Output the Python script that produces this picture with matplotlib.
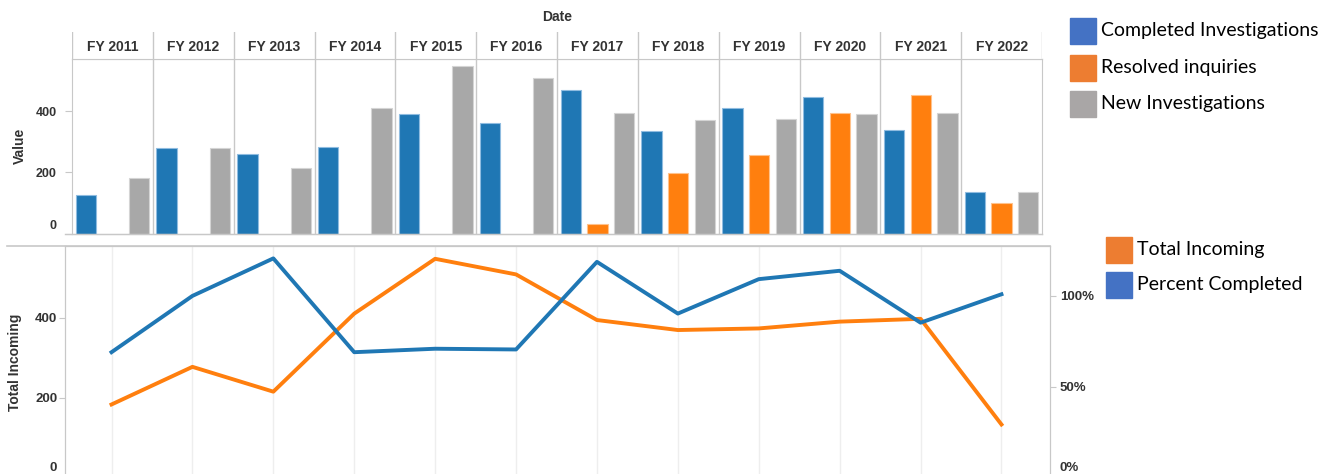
import matplotlib
matplotlib.use("Agg")
import matplotlib.pyplot as plt
import numpy as np
from matplotlib.lines import Line2D
from matplotlib.patches import Rectangle
from matplotlib.ticker import PercentFormatter
from matplotlib.transforms import ScaledTranslation

years = ["FY 2011", "FY 2012", "FY 2013", "FY 2014", "FY 2015", "FY 2016",
         "FY 2017", "FY 2018", "FY 2019", "FY 2020", "FY 2021", "FY 2022"]
completed = [126, 279, 262, 284, 392, 361, 470, 335, 410, 449, 340, 135]
resolved = [np.nan, np.nan, np.nan, np.nan, np.nan, np.nan, 30, 197, 257, 396, 453, 100]
new_inv = [183, 279, 214, 410, 549, 510, 396, 371, 375, 392, 396, 135]
total_incoming = [183, 277, 215, 410, 547, 508, 394, 369, 373, 390, 397, 133]
pct_completed = [0.689, 0.998, 1.204, 0.689, 0.708, 0.704, 1.185, 0.901, 1.090, 1.136, 0.851, 1.007]

W, H = 1340, 474
BLUE, ORANGE, GRAY = "#1f77b4", "#ff7f0e", "#a8a8a8"
LINE = "#c8c8c8"
TXT = "#333333"
FONT = ["Liberation Sans", "DejaVu Sans"]


def fx(px):
    return px / W


def fy(py):
    return 1 - py / H


def lift(label, px):
    # tableau pushes the edge label inside the pane
    label.set_transform(label.get_transform() + ScaledTranslation(0, px / 100, fig.dpi_scale_trans))


fig = plt.figure(figsize=(W / 100, H / 100), dpi=100)
fig.patch.set_facecolor("white")

# ---- top: grouped bars per fiscal year
ax = fig.add_axes([fx(72), fy(233.5), fx(1042) - fx(72), (233.5 - 59) / H])
n = len(years)
x = np.arange(n) + 0.5
width = 0.25
for vals, off, col, ec in [(completed, -0.33, BLUE, "#8fbce0"),
                           (resolved, 0.0, ORANGE, "#ffc28c"),
                           (new_inv, 0.33, GRAY, "#d4d4d4")]:
    v = np.array(vals, dtype=float)
    ok = np.isfinite(v)
    ax.bar(x[ok] + off, v[ok], width, color=col, edgecolor=ec, linewidth=0.8, zorder=2)
for i in range(1, n):
    ax.axvline(i, color=LINE, lw=1, zorder=1)
ax.set_xlim(0, n)
ax.set_ylim(0, 572)
ax.set_xticks([])
ax.set_yticks([0, 200, 400])
ax.tick_params(axis="y", length=5, width=0.8, color=LINE, pad=6, labelsize=9, labelcolor=TXT)
for lbl in ax.get_yticklabels():
    lbl.set_fontweight("bold")
    lbl.set_family(FONT)
lift(ax.yaxis.get_major_ticks()[0].label1, 9)
for s in ax.spines.values():
    s.set_color(LINE)
ax.set_ylabel("Value", fontsize=10, fontweight="bold", color=TXT, family=FONT)
ax.yaxis.set_label_coords(-0.047, 0.5)

# header row with year labels
axh = fig.add_axes([fx(72), fy(59), fx(1042) - fx(72), (59 - 32) / H])
axh.set_xlim(0, n)
axh.set_ylim(0, 1)
axh.set_xticks([])
axh.set_yticks([])
for s in ["top", "left", "right"]:
    axh.spines[s].set_visible(False)
axh.spines["bottom"].set_color(LINE)
for i in range(n + 1):
    axh.axvline(i, color=LINE, lw=1)
for i, y in enumerate(years):
    axh.text(i + 0.5, 0.45, y, ha="center", va="center", fontsize=10,
             fontweight="bold", color=TXT, family=FONT)
fig.text(fx(557), fy(17), "Date", ha="center", va="center", fontsize=10,
         fontweight="bold", color=TXT, family=FONT)

fig.add_artist(Line2D([fx(65), fx(1042)], [fy(233.5)] * 2, color=LINE, lw=1))
fig.add_artist(Line2D([fx(7), fx(1050)], [fy(246)] * 2, color=LINE, lw=1.2))

# ---- bottom: lines on dual axes
ax2 = fig.add_axes([fx(65), fy(477.7), fx(1050) - fx(65), (477.7 - 246) / H])
xi = np.arange(n)
ax2.plot(xi, total_incoming, color=ORANGE, lw=2.8, zorder=3)
ax2.set_xlim(-0.575, 11.60)
ax2.set_ylim(0, 579)
ax2.set_xticks(xi)
ax2.set_xticklabels([])
ax2.tick_params(axis="x", length=0)
ax2.grid(axis="x", color="#eeeeee", lw=1)
ax2.set_yticks([0, 200, 400])
ax2.tick_params(axis="y", length=4, width=0.8, color=LINE, pad=1.5, labelsize=9.5, labelcolor=TXT)
for lbl in ax2.get_yticklabels():
    lbl.set_fontweight("bold")
    lbl.set_family(FONT)
t0 = ax2.yaxis.get_major_ticks()[0]
lift(t0.label1, 11)
t0.tick1line.set_visible(False)
ax2.spines["bottom"].set_visible(False)
for s in ["top", "left", "right"]:
    ax2.spines[s].set_color(LINE)
ax2.set_ylabel("Total Incoming", fontsize=10, fontweight="bold", color=TXT, family=FONT)
ax2.yaxis.set_label_coords(-0.044, 0.5)

ax3 = ax2.twinx()
ax3.plot(xi, pct_completed, color=BLUE, lw=2.8, zorder=3)
ax3.set_ylim(0, 1.272)
ax3.set_yticks([0, 0.5, 1.0])
ax3.yaxis.set_major_formatter(PercentFormatter(1.0, decimals=0))
ax3.tick_params(axis="y", length=4, width=0.8, color=LINE, pad=3, labelsize=9.5, labelcolor=TXT)
for lbl in ax3.get_yticklabels():
    lbl.set_fontweight("bold")
    lbl.set_family(FONT)
t0 = ax3.yaxis.get_major_ticks()[0]
lift(t0.label2, 11)
t0.tick2line.set_visible(False)
ax3.spines["bottom"].set_visible(False)
for s in ["top", "left", "right"]:
    ax3.spines[s].set_color(LINE)

# ---- legends (office style swatches)
LFONT = ["Lato", "DejaVu Sans"]
top_leg = [("Completed Investigations", "#4472C4", 17.5),
           ("Resolved inquiries", "#ED7D31", 54.5),
           ("New Investigations", "#A9A6A6", 91)]
for label, col, ytop in top_leg:
    fig.add_artist(Rectangle((fx(1070), fy(ytop + 26)), 26 / W, 26 / H,
                             transform=fig.transFigure, color=col))
    fig.text(fx(1101), fy(ytop + 13), label, ha="left", va="center",
             fontsize=14, color="black", family=LFONT)
bot_leg = [("Total Incoming", "#ED7D31", 237),
           ("Percent Completed", "#4472C4", 271.5)]
for label, col, ytop in bot_leg:
    fig.add_artist(Rectangle((fx(1106), fy(ytop + 26)), 26 / W, 26 / H,
                             transform=fig.transFigure, color=col))
    fig.text(fx(1137), fy(ytop + 13), label, ha="left", va="center",
             fontsize=14, color="black", family=LFONT)

plt.savefig("out.png", dpi=100)
